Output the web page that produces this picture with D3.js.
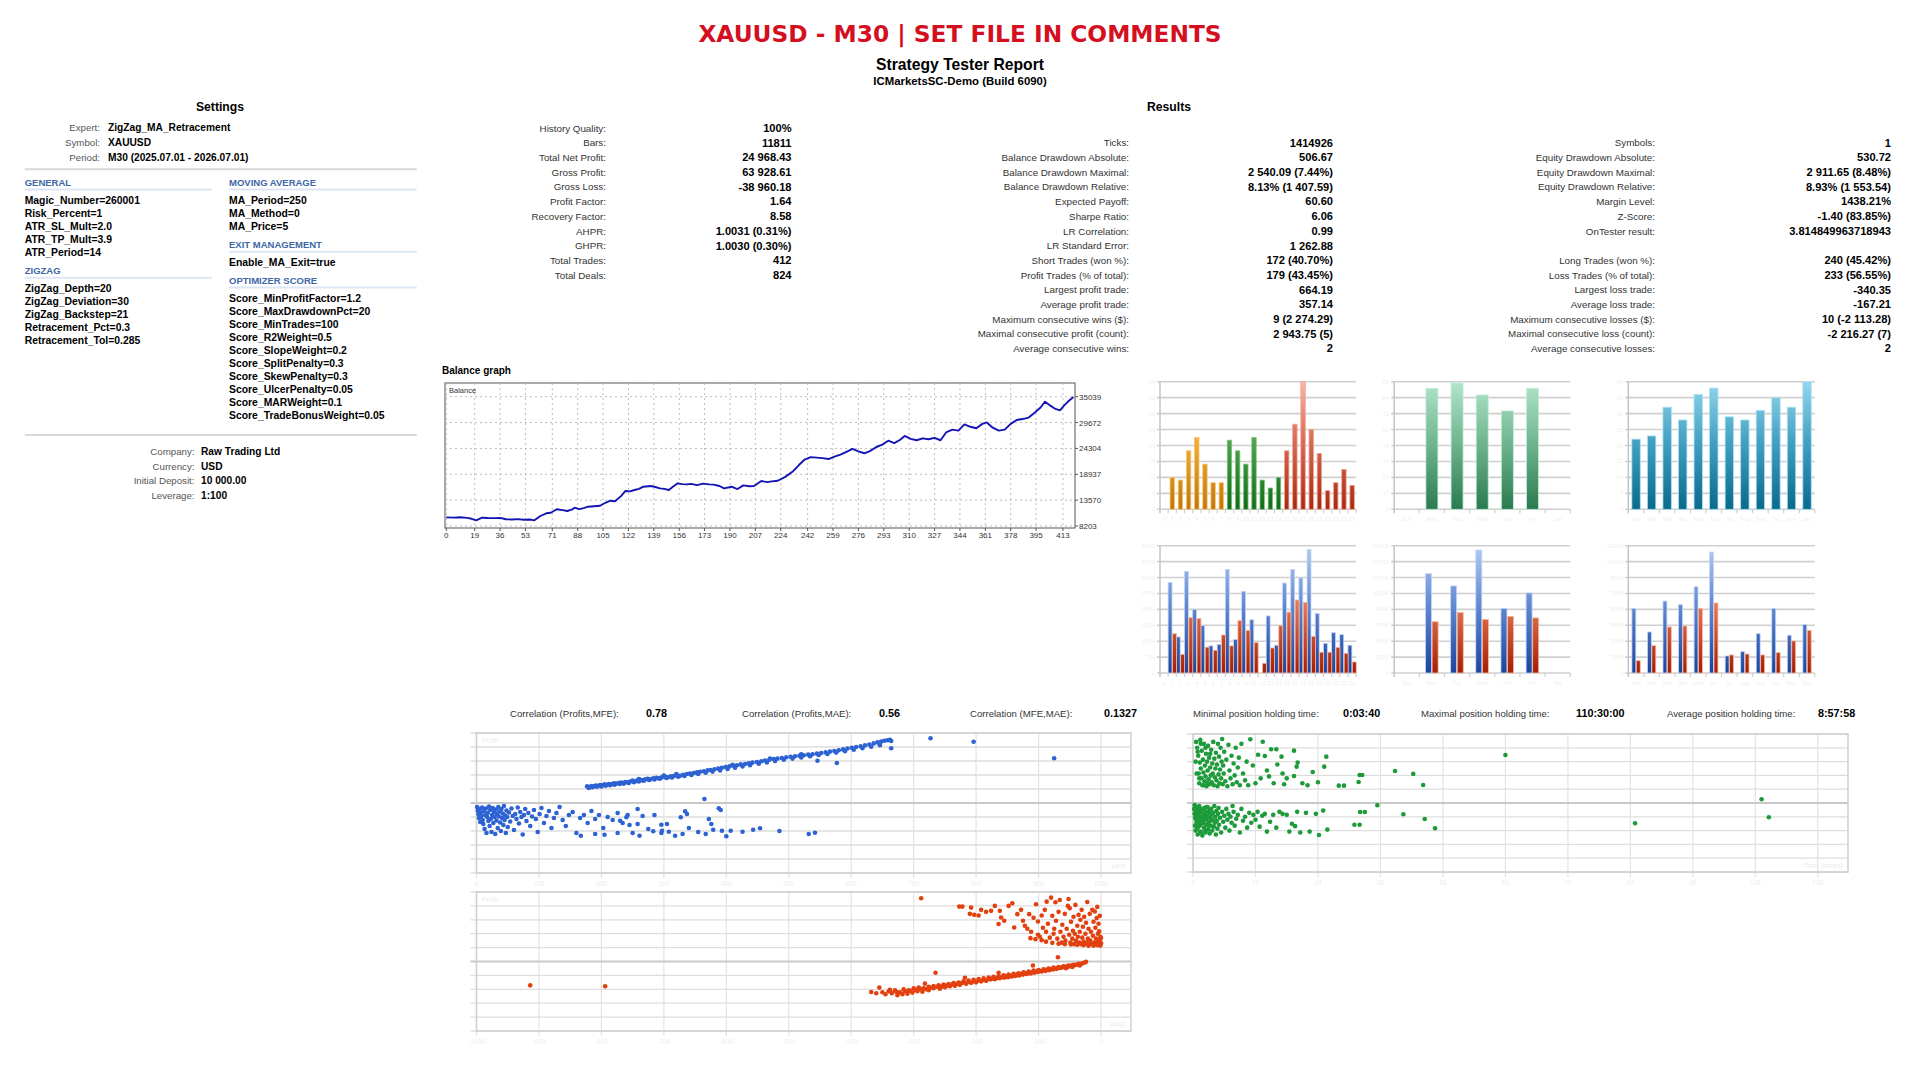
<!DOCTYPE html>
<html>
<head>
<meta charset="utf-8">
<script src="https://cdn.jsdelivr.net/npm/d3@7"></script>
<style>
  body { margin: 0; background: #fff; }
  svg { display: block; font-family: "Liberation Sans", Arial, sans-serif; }
</style>
</head>
<body>
<svg id="report" width="1920" height="1078"></svg>
<script>
// ---------- header ----------
const reportTitle = "XAUUSD - M30 | SET FILE IN COMMENTS";
const reportSubtitle = "Strategy Tester Report";
const reportServer = "ICMarketsSC-Demo (Build 6090)";

// ---------- settings ----------
const expertLabels = ["Expert:", "Symbol:", "Period:"];
const expertValues = ["ZigZag_MA_Retracement", "XAUUSD", "M30 (2025.07.01 - 2026.07.01)"];
const generalInputs = ["Magic_Number=260001", "Risk_Percent=1", "ATR_SL_Mult=2.0", "ATR_TP_Mult=3.9", "ATR_Period=14"];
const zigzagInputs = ["ZigZag_Depth=20", "ZigZag_Deviation=30", "ZigZag_Backstep=21", "Retracement_Pct=0.3", "Retracement_Tol=0.285"];
const maInputs = ["MA_Period=250", "MA_Method=0", "MA_Price=5"];
const exitInputs = ["Enable_MA_Exit=true"];
const scoreInputs = ["Score_MinProfitFactor=1.2", "Score_MaxDrawdownPct=20", "Score_MinTrades=100", "Score_R2Weight=0.5",
  "Score_SlopeWeight=0.2", "Score_SplitPenalty=0.3", "Score_SkewPenalty=0.3", "Score_UlcerPenalty=0.05",
  "Score_MARWeight=0.1", "Score_TradeBonusWeight=0.05"];
const accountLabels = ["Company:", "Currency:", "Initial Deposit:", "Leverage:"];
const accountValues = ["Raw Trading Ltd", "USD", "10 000.00", "1:100"];

// ---------- results ----------
const resultsLabelsA = ["History Quality:", "Bars:", "Total Net Profit:", "Gross Profit:", "Gross Loss:", "Profit Factor:",
  "Recovery Factor:", "AHPR:", "GHPR:", "Total Trades:", "Total Deals:"];
const resultsValuesA = ["100%", "11811", "24 968.43", "63 928.61", "-38 960.18", "1.64", "8.58", "1.0031 (0.31%)",
  "1.0030 (0.30%)", "412", "824"];
const resultsLabelsB = ["Ticks:", "Balance Drawdown Absolute:", "Balance Drawdown Maximal:", "Balance Drawdown Relative:",
  "Expected Payoff:", "Sharpe Ratio:", "LR Correlation:", "LR Standard Error:", "Short Trades (won %):",
  "Profit Trades (% of total):", "Largest profit trade:", "Average profit trade:", "Maximum consecutive wins ($):",
  "Maximal consecutive profit (count):", "Average consecutive wins:"];
const resultsValuesB = ["1414926", "506.67", "2 540.09 (7.44%)", "8.13% (1 407.59)", "60.60", "6.06", "0.99", "1 262.88",
  "172 (40.70%)", "179 (43.45%)", "664.19", "357.14", "9 (2 274.29)", "2 943.75 (5)", "2"];
const resultsLabelsC = ["Symbols:", "Equity Drawdown Absolute:", "Equity Drawdown Maximal:", "Equity Drawdown Relative:",
  "Margin Level:", "Z-Score:", "OnTester result:", "", "Long Trades (won %):", "Loss Trades (% of total):",
  "Largest loss trade:", "Average loss trade:", "Maximum consecutive losses ($):", "Maximal consecutive loss (count):",
  "Average consecutive losses:"];
const resultsValuesC = ["1", "530.72", "2 911.65 (8.48%)", "8.93% (1 553.54)", "1438.21%", "-1.40 (83.85%)",
  "3.814849963718943", "", "240 (45.42%)", "233 (56.55%)", "-340.35", "-167.21", "10 (-2 113.28)", "-2 216.27 (7)", "2"];

// ---------- balance graph ----------
const balanceXTicks = [0, 19, 36, 53, 71, 88, 105, 122, 139, 156, 173, 190, 207, 224, 242, 259, 276, 293, 310, 327, 344, 361, 378, 395, 413];
const balanceYTicks = [8203, 13570, 18937, 24304, 29672, 35039];
const balanceTrades = [0, 5, 9, 14, 17, 20, 24, 28, 32, 36, 40, 44, 48, 52, 56, 59, 63, 67, 70, 72, 74, 78, 81, 84, 86, 89,
  92, 95, 99, 103, 105, 108, 110, 113, 117, 120, 123, 126, 129, 132, 137, 140, 143, 146, 149, 152, 155, 158, 161, 164, 168,
  172, 176, 179, 183, 186, 191, 195, 199, 203, 206, 211, 215, 218, 222, 227, 232, 236, 240, 244, 248, 252, 256, 260, 264,
  268, 272, 276, 280, 284, 288, 292, 296, 300, 304, 307, 311, 315, 319, 323, 327, 331, 335, 339, 343, 347, 351, 355, 359,
  362, 366, 370, 374, 378, 382, 386, 390, 394, 398, 401, 404, 408, 411, 414, 417, 420];
const balanceValues = [10000, 9950, 10020, 9900, 9700, 9390, 9920, 9860, 9840, 9880, 9600, 9560, 9620, 9500, 9540, 9380,
  10280, 10840, 10950, 11320, 11670, 11500, 11320, 11600, 12000, 11700, 11900, 12210, 12300, 12400, 12770, 13200, 13450,
  13350, 14400, 15470, 15400, 15670, 15900, 16360, 16500, 16300, 16020, 15900, 15670, 16400, 17060, 16900, 16840, 16950,
  16700, 16990, 16850, 16780, 16500, 16020, 16360, 15880, 16640, 16450, 16500, 17540, 17300, 17470, 17600, 18400, 19500,
  20800, 22000, 22500, 22400, 22300, 22100, 22600, 23000, 23600, 24200, 23700, 23300, 23800, 24600, 25100, 25900, 25400,
  26100, 26900, 26300, 26000, 26400, 26200, 26500, 26000, 27700, 28200, 28000, 29300, 28800, 28500, 29400, 29700, 28600,
  28000, 28200, 29400, 30200, 30400, 30700, 31700, 32800, 34000, 33300, 32500, 32200, 33300, 34200, 34968];

// ---------- distribution histograms ----------
const hourLabels = ["0", "1", "2", "3", "4", "5", "6", "7", "8", "9", "10", "11", "12", "13", "14", "15", "16", "17", "18", "19", "20", "21", "22", "23"];
const weekdayLabels = ["Sun", "Mon", "Tue", "Wed", "Thu", "Fri", "Sat"];
const monthLabels = ["Jan", "Feb", "Mar", "Apr", "May", "Jun", "Jul", "Aug", "Sep", "Oct", "Nov", "Dec"];
const hourEntries = [0, 12, 11, 22, 27, 17, 10, 10, 26, 22, 17, 27, 11, 8, 12, 22, 32, 48, 30, 21, 7, 10, 15, 9];
const weekdayEntries = [0, 91, 95, 86, 74, 91, 0];
const monthEntries = [22, 23, 32, 28, 36, 38, 29, 28, 31, 35, 32, 40];
const hourProfits = [0, 4260, 1700, 4790, 3000, 2230, 1280, 1350, 4880, 1580, 3850, 2510, 0, 2690, 1310, 4240, 4880, 4480, 5830, 2810, 1400, 1900, 1810, 1310];
const hourLosses = [0, 1850, 880, 2610, 2570, 1220, 1070, 1790, 1280, 2470, 2010, 1430, 460, 1180, 2230, 2870, 3440, 3330, 1730, 980, 980, 1210, 930, 520];
const weekdayProfits = [0, 14040, 12310, 17390, 9140, 11320, 0];
const weekdayLosses = [0, 7250, 8570, 7580, 8010, 7790, 0];
const monthProfits = [6090, 3870, 6780, 6440, 8130, 11400, 1610, 2010, 3710, 6090, 3560, 4560];
const monthLosses = [1160, 2580, 4340, 4430, 6090, 6600, 1700, 1790, 1700, 1920, 3020, 4020];

// ---------- scatter plots ----------
const correlationLabels = ["Correlation (Profits,MFE):", "Correlation (Profits,MAE):", "Correlation (MFE,MAE):"];
const correlationValues = ["0.78", "0.56", "0.1327"];
const holdingLabels = ["Minimal position holding time:", "Maximal position holding time:", "Average position holding time:"];
const holdingValues = ["0:03:40", "110:30:00", "8:57:58"];
const profitTicks = [-700, -560, -420, -280, -140, 0, 140, 280, 420, 560, 700];
const mfeTicks = [0, 100, 200, 300, 400, 500, 600, 700, 800, 900, 1000];
const maeTicks = [-1000, -900, -800, -700, -600, -500, -400, -300, -200, -100, 0];
const holdTicks = [0, 12, 24, 36, 48, 60, 72, 84, 96, 108, 120];

// [MFE, profit]
const mfePoints = [
  [177,166],[181,160],[184,170],[188,168],[191,175],[195,172],[198,180],[202,178],[205,186],[209,183],[212,190],[216,188],
  [220,196],[223,192],[227,200],[231,204],[234,199],[238,210],[242,206],[246,215],[250,224],[254,218],[258,228],[262,232],
  [266,226],[270,238],[274,242],[278,236],[283,248],[288,252],[292,246],[297,258],[302,262],[306,256],[311,266],[316,270],
  [321,276],[326,272],[331,282],[337,290],[342,294],[348,300],[353,306],[358,312],[364,318],[370,326],[375,330],[381,338],
  [387,344],[393,352],[399,360],[405,366],[411,372],[417,378],[423,386],[430,390],[436,398],[442,404],[449,410],[456,418],
  [462,424],[469,432],[476,440],[482,444],[489,450],[496,458],[503,462],[510,468],[517,472],[524,478],[531,484],[538,488],
  [545,494],[552,500],[559,506],[566,514],[573,520],[580,528],[587,536],[594,545],[601,552],[608,560],[615,568],[622,576],
  [629,584],[636,596],[642,606],[648,614],[653,622],[658,628],[662,633],[664,620],[546,423],[577,400],[664,547],[727,647],
  [796,613],[925,447],[365,40],
  [180,150],[186,158],[193,162],[200,166],[207,172],[214,178],[221,182],[229,190],[236,194],[244,200],[252,208],[260,216],
  [268,222],[276,230],[285,236],[294,244],[304,250],[313,256],[323,262],[333,270],[344,280],[355,290],[367,302],[378,314],
  [390,326],[402,340],[414,352],[426,366],[438,378],[452,392],[465,406],[478,420],[492,432],[506,444],[520,456],[534,468],
  [548,480],[562,490],[576,504],[590,518],[604,532],[618,548],[632,562],[646,578],[300,275],[320,290],[260,240],[410,382],
  [470,445],[520,486],
  [1,-40],[2,-75],[3,-110],[4,-150],[5,-60],[6,-190],[7,-95],[8,-130],[9,-45],[10,-170],[11,-210],[12,-80],[13,-260],
  [14,-120],[15,-55],[16,-300],[17,-140],[18,-100],[19,-180],[20,-35],[21,-230],[22,-70],[23,-160],[24,-290],[25,-120],
  [26,-50],[27,-200],[28,-90],[29,-140],[30,-310],[31,-65],[32,-175],[33,-110],[34,-250],[35,-40],[36,-135],[37,-85],
  [38,-195],[39,-280],[40,-60],[41,-150],[42,-105],[43,-220],[44,-30],[45,-170],[46,-125],[47,-300],[48,-75],[49,-140],
  [50,-240],[52,-95],[54,-185],[56,-55],[58,-130],[60,-270],[62,-110],[64,-160],[66,-45],[68,-205],[70,-90],[72,-140],
  [74,-315],[76,-120],[78,-60],[80,-180],[83,-100],[86,-230],[89,-135],[92,-70],[95,-160],[98,-290],[101,-110],[104,-50],
  [108,-200],[112,-130],[116,-80],[120,-250],[124,-150],[128,-100],[133,-40],[138,-170],[143,-230],[148,-120],[154,-90],
  [160,-300],[166,-150],[172,-120],[178,-200],[184,-80],[190,-160],[196,-120],[203,-250],[210,-140],[218,-170],[226,-100],
  [234,-200],[242,-120],[250,-300],[258,-210],[266,-130],[275,-260],[285,-120],[296,-300],[305,-210],[318,-327],[330,-310],
  [337,-110],[340,-250],[355,-290],[372,-160],[388,-53],[334,-83],[327,-143],[376,-210],[379,-267],[393,-277],[407,-277],
  [400,-333],[426,-287],[443,-267],[454,-253],[485,-280],[532,-310],[542,-297],[367,-310],[296,-217],[297,-277],[308,-287],
  [283,-283],[261,-327],[245,-220],[240,-143],[230,-177],[226,-300],[205,-317],[190,-310],[167,-327],[258,-60],[391,-70]
];

// [hours held, profit]
const holdPoints = [
  [0.6,620],[0.8,560],[1.0,480],[1.1,300],[1.2,200],[1.3,410],[1.4,640],[1.5,350],[1.6,250],[1.7,530],[1.8,180],[1.9,440],
  [2.0,310],[2.1,600],[2.2,220],[2.3,380],[2.4,270],[2.5,500],[2.6,170],[2.7,420],[2.8,330],[2.9,580],[3.0,240],[3.1,460],
  [3.2,190],[3.3,360],[3.4,280],[3.5,540],[3.6,210],[3.7,400],[3.8,300],[3.9,620],[4.0,180],[4.1,450],[4.2,260],[4.3,350],
  [4.4,510],[4.5,230],[4.6,390],[4.7,170],[4.8,600],[4.9,290],[5.0,470],[5.1,200],[5.2,340],[5.3,560],[5.4,250],[5.5,420],
  [5.6,650],[5.7,190],[5.8,380],[5.9,300],[6.0,520],[6.2,220],[6.4,440],[6.6,170],[6.8,590],[7.0,330],[7.2,250],[7.4,480],
  [7.6,190],[7.8,400],[8.0,280],[8.2,560],[8.4,210],[8.6,360],[8.8,460],[9.0,180],[9.3,600],[9.6,300],[10,230],[10.3,420],
  [10.6,180],[11,646],[11.5,380],[12,200],[12.5,490],[13,250],[13.4,622],[13.8,477],[14.2,330],[14.6,270],[15,545],[15.5,200],
  [16,545],[16.2,390],[17,470],[17.2,300],[17.5,190],[18,250],[19.4,531],[19.4,274],[19.9,369],[20.1,410],[21,200],[22,180],
  [23,315],[24,210],[25.2,369],[25.6,470],[28,176],[29,176],[31.8,213],[32,284],[32.5,284],[38.8,325],[42.3,295],[44.2,183],
  [60,487],[0.5,420],[0.7,300],[0.9,520],[1.2,250],[1.5,600],[2.0,180],[2.4,560],[2.8,200],[3.3,500],
  [0.3,-20],[0.4,-150],[0.5,-90],[0.5,-280],[0.6,-40],[0.7,-200],[0.8,-120],[0.9,-320],[1.0,-60],[1.0,-240],[1.1,-170],
  [1.2,-30],[1.3,-100],[1.4,-290],[1.5,-140],[1.6,-210],[1.7,-70],[1.8,-330],[1.9,-180],[2.0,-110],[2.1,-250],[2.2,-50],
  [2.3,-160],[2.4,-300],[2.5,-90],[2.6,-220],[2.7,-130],[2.8,-40],[2.9,-270],[3.0,-190],[3.1,-80],[3.2,-310],[3.3,-150],
  [3.4,-230],[3.5,-60],[3.6,-120],[3.7,-280],[3.8,-170],[3.9,-100],[4.0,-240],[4.1,-30],[4.2,-200],[4.3,-140],[4.4,-320],
  [4.5,-80],[4.6,-180],[4.7,-260],[4.8,-110],[4.9,-50],[5.0,-220],[5.2,-150],[5.4,-300],[5.6,-90],[5.8,-190],[6.0,-130],
  [6.2,-250],[6.4,-60],[6.6,-170],[6.8,-110],[7.0,-280],[7.2,-140],[7.4,-200],[7.6,-30],[7.8,-90],[8.0,-230],[8.3,-160],
  [8.6,-120],[9.0,-300],[9.3,-60],[9.6,-180],[10,-140],[10.4,-250],[10.8,-100],[11.2,-200],[11.6,-120],[12,-170],[12.4,-90],
  [12.8,-240],[13.3,-130],[13.8,-110],[14.2,-290],[14.8,-190],[15.4,-120],[16,-250],[16.6,-90],[17.2,-110],[18,-120],
  [18.5,-290],[19,-210],[19.6,-235],[20,-90],[20.6,-300],[21.7,-100],[22.4,-290],[23.6,-110],[24.2,-325],[25,-77],[25.8,-270],
  [31,-220],[32,-220],[32.1,-91],[33,-91],[35.4,-23],[40.4,-114],[44.5,-162],[46.5,-256],[84.9,-206],[109.2,38],[110.6,-145],
  [0.2,-60],[0.3,-110],[0.4,-230],[0.6,-170],[0.7,-90],[0.8,-260],[0.9,-130],[1.1,-45],[1.2,-190],[1.3,-230],[1.5,-80],
  [1.6,-300],[1.7,-150],[1.9,-60],[2.0,-200],[2.2,-120],[2.3,-270],[2.5,-170],[2.6,-40],[2.8,-140],[3.0,-230],[3.2,-100],[3.4,-180]
];

// [MAE, profit]
const maePoints = [
  [-288,637],[-227,553],[-222,553],[-208,543],[-210,480],[-203,470],[-192,520],[-196,463],[-184,500],[-176,510],[-170,560],
  [-162,510],[-160,443],[-164,377],[-155,410],[-148,560],[-142,587],[-139,343],[-134,477],[-128,520],[-125,410],[-122,360],
  [-118,330],[-115,477],[-112,300],[-108,440],[-104,577],[-101,403],[-101,270],[-98,250],[-95,463],[-93,340],[-90,520],
  [-88,300],[-87,603],[-85,380],[-82,240],[-80,643],[-78,460],[-76,280],[-75,330],[-73,597],[-72,410],[-70,230],[-68,500],
  [-66,620],[-65,300],[-63,190],[-62,370],[-60,250],[-58,480],[-57,210],[-55,330],[-53,560],[-52,630],[-51,270],[-50,537],
  [-49,190],[-48,400],[-46,230],[-45,310],[-44,450],[-43,175],[-42,280],[-41,570],[-40,210],[-38,360],[-37,250],[-36,470],
  [-35,190],[-34,300],[-33,420],[-32,175],[-31,520],[-30,240],[-29,350],[-28,200],[-27,450],[-26,175],[-25,280],[-24,390],
  [-23,190],[-22,600],[-21,230],[-20,330],[-19,170],[-18,480],[-17,210],[-16,300],[-15,180],[-14,520],[-13,260],[-12,400],
  [-11,175],[-10,503],[-10,190],[-9,340],[-8,230],[-7,437],[-7,170],[-6,550],[-5,200],[-5,280],[-4,380],[-4,175],[-3,303],
  [-3,170],[-2,460],[-2,220],[-1,250],[0,237],[0,185],[-1,160],[-6,165],[-12,160],[-20,158],[-28,165],[-38,168],[-48,172],
  [-58,175],[-68,180],[-78,188],[-88,200],[-95,215],[-105,225],[-113,235],
  [-368,-307],[-355,-263],[-345,-330],[-340,-300],[-335,-320],[-330,-290],[-326,-340],[-322,-310],[-318,-330],[-314,-300],
  [-310,-325],[-306,-295],[-302,-313],[-298,-285],[-294,-300],[-290,-275],[-286,-305],[-282,-223],[-280,-280],[-276,-290],
  [-272,-265],[-268,-270],[-265,-113],[-262,-255],[-258,-275],[-254,-250],[-250,-260],[-246,-240],[-242,-250],[-238,-230],
  [-234,-245],[-230,-225],[-226,-235],[-222,-215],[-218,-163],[-216,-225],[-212,-205],[-208,-215],[-204,-200],[-200,-210],
  [-196,-190],[-192,-200],[-188,-185],[-184,-195],[-180,-175],[-177,-180],[-174,-170],[-170,-178],[-166,-165],[-164,-113],
  [-162,-168],[-158,-155],[-155,-162],[-152,-150],[-149,-158],[-146,-145],[-143,-150],[-140,-138],[-137,-145],[-134,-130],
  [-131,-140],[-128,-125],[-125,-132],[-122,-118],[-119,-126],[-116,-112],[-113,-120],[-110,-108],[-107,-113],[-104,-100],
  [-101,-106],[-98,-95],[-95,-100],[-92,-88],[-89,-94],[-86,-82],[-83,-88],[-80,-76],[-77,-80],[-74,-70],[-71,-74],[-69,43],
  [-68,-62],[-65,-66],[-62,-56],[-59,-60],[-56,-50],[-53,-52],[-50,-47],[-47,-42],[-44,-40],[-41,-35],[-38,-30],[-35,-28],
  [-32,-22],[-29,-18],[-26,-10],[-24,-3],[-109,-40],[-914,-240],[-794,-250],
  [-360,-320],[-350,-310],[-338,-285],[-328,-305],[-316,-280],[-308,-290],[-300,-270],[-292,-262],[-284,-270],[-276,-255],
  [-268,-248],[-260,-240],[-252,-232],[-244,-228],[-236,-218],[-228,-212],[-220,-200],[-212,-192],[-204,-185],[-196,-176],
  [-188,-170],[-180,-162],[-172,-155],[-164,-150],[-156,-140],[-148,-132],[-140,-125],[-132,-118],[-124,-110],[-116,-100],
  [-108,-92],[-100,-85],[-92,-78],[-84,-70],[-76,-62],[-68,-55],[-60,-48],[-52,-40],[-44,-32],[-36,-24],[-56,-68],[-46,-55],[-34,-40]
];

// ================= drawing =================
const svg = d3.select("#report");
const defs = svg.append("defs");

function put(x, y, str, o = {}) {
  const t = svg.append("text")
    .attr("x", x).attr("y", y)
    .attr("font-size", o.size || 9.8)
    .attr("font-weight", o.bold ? "bold" : "normal")
    .attr("fill", o.fill || "#000")
    .attr("text-anchor", o.anchor || "start")
    .text(str);
  if (o.family) t.style("font-family", o.family);
  return t;
}

function hline(x1, x2, y, color, w) {
  svg.append("line").attr("x1", x1).attr("x2", x2).attr("y1", y).attr("y2", y)
    .attr("stroke", color).attr("stroke-width", w);
}

// header
put(960, 42, reportTitle, { size: 23.3, bold: true, fill: "#d40f1f", anchor: "middle", family: "'DejaVu Sans', sans-serif" });
put(960, 70, reportSubtitle, { size: 15.7, bold: true, anchor: "middle" });
put(960, 85, reportServer, { size: 11.4, bold: true, anchor: "middle" });

// settings block
put(220, 110.8, "Settings", { size: 12.2, bold: true, anchor: "middle" });
expertLabels.forEach((l, i) => {
  put(100, 131.3 + i * 14.8, l, { size: 9.7, fill: "#555", anchor: "end" });
  put(108, 131.3 + i * 14.8, expertValues[i], { size: 10.2, bold: true });
});
hline(24.7, 416.7, 169.3, "#d8d8d8", 2);

function section(x, yHead, title, items, xEnd) {
  put(x, yHead + 3.4, title, { size: 9.5, bold: true, fill: "#3d67a6" });
  hline(x, xEnd, yHead + 6.8, "#dde6f3", 2);
  items.forEach((s, i) => put(x, yHead + 17.2 + i * 13 + 3.7, s, { size: 10.4, bold: true }));
}
section(24.7, 182.7, "GENERAL", generalInputs, 212);
section(24.7, 271, "ZIGZAG", zigzagInputs, 212);
section(229, 182.7, "MOVING AVERAGE", maInputs, 416.7);
section(229, 245, "EXIT MANAGEMENT", exitInputs, 416.7);
section(229, 280.7, "OPTIMIZER SCORE", scoreInputs, 416.7);
hline(24.7, 416.7, 435, "#d8d8d8", 2);

accountLabels.forEach((l, i) => {
  put(194.5, 454.6 + i * 14.9, l, { size: 9.7, fill: "#555", anchor: "end" });
  put(201, 454.6 + i * 14.9, accountValues[i], { size: 10.2, bold: true });
});

// results block
put(1169, 110.8, "Results", { size: 12.2, bold: true, anchor: "middle" });
const rowY = i => 128 + i * 14.7;
function resultColumn(labels, values, startRow, labelRight, valueRight) {
  labels.forEach((l, i) => {
    if (l) put(labelRight, rowY(i + startRow) + 3.6, l, { size: 9.8, fill: "#333", anchor: "end" });
    if (values[i]) put(valueRight, rowY(i + startRow) + 3.9, values[i], { size: 11.1, bold: true, anchor: "end" });
  });
}
resultColumn(resultsLabelsA, resultsValuesA, 0, 606, 791.5);
resultColumn(resultsLabelsB, resultsValuesB, 1, 1129, 1333);
resultColumn(resultsLabelsC, resultsValuesC, 1, 1655, 1891);

// ---------- balance graph ----------
put(442, 373.8, "Balance graph", { size: 10, bold: true });
const bx = d3.scaleLinear().domain([0, 421]).range([446.3, 1074.9]);
const by = d3.scaleLinear().domain([8203, 35039]).range([526, 396.7]);
svg.append("rect").attr("x", 445).attr("y", 383).attr("width", 630).attr("height", 145)
  .attr("fill", "#fff").attr("stroke", "#555").attr("stroke-width", 1);
balanceYTicks.forEach(v => {
  svg.append("line").attr("x1", 445).attr("x2", 1075).attr("y1", by(v)).attr("y2", by(v))
    .attr("stroke", "#bdbdbd").attr("stroke-dasharray", "2,3");
  svg.append("line").attr("x1", 1075).attr("x2", 1078).attr("y1", by(v)).attr("y2", by(v)).attr("stroke", "#555");
  put(1079, by(v) + 3, v, { size: 8, fill: "#333" });
});
balanceXTicks.forEach(t => {
  svg.append("line").attr("x1", bx(t)).attr("x2", bx(t)).attr("y1", 383).attr("y2", 528)
    .attr("stroke", "#bdbdbd").attr("stroke-dasharray", "2,3");
  svg.append("line").attr("x1", bx(t)).attr("x2", bx(t)).attr("y1", 528).attr("y2", 531).attr("stroke", "#555");
  put(bx(t), 538, t, { size: 8, fill: "#333", anchor: "middle" });
});
put(449, 392.5, "Balance", { size: 7.5, fill: "#333" });
svg.append("path")
  .datum(balanceTrades.map((t, i) => [t, balanceValues[i]]))
  .attr("fill", "none").attr("stroke", "#1414b4").attr("stroke-width", 1.9).attr("stroke-linejoin", "round")
  .attr("d", d3.line().x(d => bx(d[0])).y(d => by(d[1])));

// ---------- histograms ----------
function gradient(id, y1, y2, stops) {
  const g = defs.append("linearGradient").attr("id", id).attr("gradientUnits", "userSpaceOnUse")
    .attr("x1", 0).attr("x2", 0).attr("y1", y1).attr("y2", y2);
  stops.forEach(s => g.append("stop").attr("offset", s[0]).attr("stop-color", s[1]));
}
const topRow = { top: 381.7, base: 509.3 };
const botRow = { top: 545.7, base: 673 };
gradient("gOrange", topRow.top, topRow.base, [[0, "#ffd887"], [0.5, "#efa836"], [1, "#c1770b"]]);
gradient("gGreen", topRow.top, topRow.base, [[0, "#8fd28f"], [0.5, "#4a9f4a"], [1, "#136b19"]]);
gradient("gRed", topRow.top, topRow.base, [[0, "#f7b8aa"], [0.35, "#e07a64"], [1, "#a82a10"]]);
gradient("gMint", topRow.top, topRow.base, [[0, "#b1e5ca"], [0.5, "#6db38d"], [1, "#2b7a50"]]);
gradient("gTeal", topRow.top, topRow.base, [[0, "#93d6ec"], [0.5, "#3f9dbf"], [1, "#0a6a8b"]]);
gradient("gBlue", botRow.top, botRow.base, [[0, "#b3cbf3"], [0.5, "#5b83cf"], [1, "#1b449e"]]);
gradient("gLoss", botRow.top, botRow.base, [[0, "#ffc4ad"], [0.5, "#e0704e"], [1, "#a31e06"]]);

function histogram(o) {
  const xb = d3.scaleBand().domain(o.cats).range([o.x0, o.x1]);
  const y = d3.scaleLinear().domain([0, o.max]).range([o.row.base, o.row.top]);
  const ticks = d3.range(0, 9).map(k => o.max * k / 8);
  ticks.forEach(t => {
    hline(o.x0 - 3, o.x1, y(t), "#cfcfcf", 1.6);
    put(o.x0 - 5, y(t) + 2, t, { size: 6, fill: "#f0f0f0", anchor: "end" });
  });
  svg.append("line").attr("x1", o.x0).attr("x2", o.x0).attr("y1", o.row.top).attr("y2", o.row.base + 4)
    .attr("stroke", "#c4c4c4").attr("stroke-width", 1.5);
  o.cats.forEach(c => {
    const xs = xb(c) + xb.bandwidth();
    svg.append("line").attr("x1", xs).attr("x2", xs).attr("y1", o.row.base).attr("y2", o.row.base + 4)
      .attr("stroke", "#cfcfcf").attr("stroke-width", 1.2);
    put(xb(c) + xb.bandwidth() / 2, o.row.base + 12, c, { size: 5.5, fill: "#f0f0f0", anchor: "middle" });
  });
  o.series.forEach(s => {
    svg.append("g").selectAll("rect")
      .data(o.cats.map((c, i) => ({ c, v: s.values[i], i })).filter(d => d.v > 0))
      .enter().append("rect")
      .attr("x", d => xb(d.c) + xb.bandwidth() / 2 + s.shift - s.width / 2)
      .attr("width", s.width)
      .attr("y", d => y(d.v))
      .attr("height", d => o.row.base - y(d.v))
      .attr("fill", d => `url(#${typeof s.grad === "function" ? s.grad(d.i) : s.grad})`)
      .attr("stroke", d => typeof s.stroke === "function" ? s.stroke(d.i) : s.stroke)
      .attr("stroke-width", 0.8);
  });
}

const hourGrad = i => i < 8 ? "gOrange" : (i < 15 ? "gGreen" : "gRed");
const hourStroke = i => i < 8 ? "#fac46a" : (i < 15 ? "#7cc47c" : "#f2a090");
histogram({ x0: 1160, x1: 1356.2, row: topRow, cats: hourLabels, max: 48,
  series: [{ values: hourEntries, grad: hourGrad, stroke: hourStroke, width: 4.4, shift: 0 }] });
histogram({ x0: 1394.2, x1: 1570.2, row: topRow, cats: weekdayLabels, max: 96,
  series: [{ values: weekdayEntries, grad: "gMint", stroke: "#bfeed5", width: 12, shift: 0 }] });
histogram({ x0: 1628.3, x1: 1814.8, row: topRow, cats: monthLabels, max: 40,
  series: [{ values: monthEntries, grad: "gTeal", stroke: "#a7e2f3", width: 8.4, shift: 0 }] });

histogram({ x0: 1160, x1: 1356.2, row: botRow, cats: hourLabels, max: 6000,
  series: [{ values: hourProfits, grad: "gBlue", stroke: "#c2d6f6", width: 3.9, shift: -2.2 },
           { values: hourLosses, grad: "gLoss", stroke: "#f8b8a0", width: 3.9, shift: 2.2 }] });
histogram({ x0: 1394.2, x1: 1570.2, row: botRow, cats: weekdayLabels, max: 18000,
  series: [{ values: weekdayProfits, grad: "gBlue", stroke: "#c2d6f6", width: 6, shift: -3.4 },
           { values: weekdayLosses, grad: "gLoss", stroke: "#f8b8a0", width: 6, shift: 3.2 }] });
histogram({ x0: 1628.3, x1: 1814.8, row: botRow, cats: monthLabels, max: 12000,
  series: [{ values: monthProfits, grad: "gBlue", stroke: "#c2d6f6", width: 3.9, shift: -2.2 },
           { values: monthLosses, grad: "gLoss", stroke: "#f8b8a0", width: 3.9, shift: 2.2 }] });

// ---------- correlation / holding time text ----------
const corrLabelX = [510, 742, 970], corrValueX = [646, 879, 1104];
correlationLabels.forEach((l, i) => {
  put(corrLabelX[i], 716.8, l, { size: 9.6, fill: "#333" });
  put(corrValueX[i], 716.8, correlationValues[i], { size: 10.8, bold: true });
});
const holdLabelX = [1193, 1421, 1667], holdValueX = [1343, 1576, 1818];
holdingLabels.forEach((l, i) => {
  put(holdLabelX[i], 716.8, l, { size: 9.6, fill: "#333" });
  put(holdValueX[i], 716.8, holdingValues[i], { size: 10.8, bold: true });
});

// ---------- scatter plots ----------
function scatterPlot(o) {
  const x = d3.scaleLinear().domain(o.xDomain).range([o.x0, o.x1]);
  const y = d3.scaleLinear().domain([-700, 700]).range([o.y1, o.y0]);
  o.xTicks.forEach(t => {
    svg.append("line").attr("x1", x(t)).attr("x2", x(t)).attr("y1", o.y0).attr("y2", o.y1 + 5)
      .attr("stroke", "#e3e3e3").attr("stroke-width", 1.2);
    put(x(t), o.y1 + 13, t, { size: 6.5, fill: "#eeeeee", anchor: "middle" });
  });
  profitTicks.forEach(t => {
    svg.append("line").attr("x1", o.x0 - 6).attr("x2", o.x1).attr("y1", y(t)).attr("y2", y(t))
      .attr("stroke", t === 0 ? "#c9c9c9" : "#dedede").attr("stroke-width", t === 0 ? 2 : 1.3);
  });
  svg.append("rect").attr("x", o.x0).attr("y", o.y0).attr("width", o.x1 - o.x0).attr("height", o.y1 - o.y0)
    .attr("fill", "none").attr("stroke", "#cfcfcf").attr("stroke-width", 1.5);
  put(o.x0 + 5, o.y0 + 10, "Profit", { size: 7, fill: "#ececec" });
  put(o.x1 - 5, o.y1 - 4, o.xName, { size: 7, fill: "#ececec", anchor: "end" });
  svg.append("g").selectAll("circle").data(o.points).enter().append("circle")
    .attr("cx", d => x(d[0])).attr("cy", d => y(d[1])).attr("r", 2.3).attr("fill", o.color);
}

scatterPlot({ x0: 476.5, x1: 1131, y0: 733, y1: 873, xDomain: [0, 1048], xTicks: mfeTicks,
  points: mfePoints, color: "#2d62d2", xName: "MFE" });
scatterPlot({ x0: 1193, x1: 1848, y0: 734, y1: 872, xDomain: [0, 125.8], xTicks: holdTicks,
  points: holdPoints, color: "#1d9a39", xName: "Time (hours)" });
scatterPlot({ x0: 476.5, x1: 1131, y0: 892, y1: 1031, xDomain: [-1000, 48], xTicks: maeTicks,
  points: maePoints, color: "#e2400e", xName: "MAE" });
</script>
</body>
</html>
